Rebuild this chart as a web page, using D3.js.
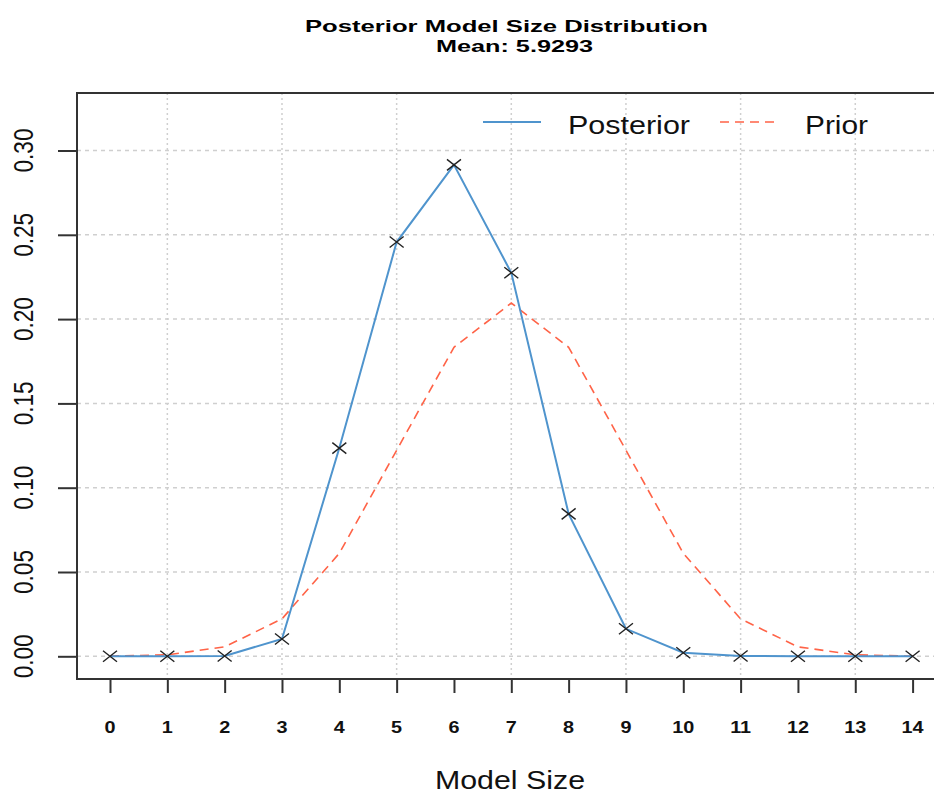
<!DOCTYPE html>
<html>
<head>
  <meta charset="UTF-8">
  <style>
    body { margin: 0; background: #fff; }
    svg { display: block; font-family: "Liberation Sans", Arial, sans-serif; }
  </style>
</head>
<body>
<svg></svg>
<script src="https://d3js.org/d3.v7.min.js"></script>
<script>

let width = 934, height = 793;

// data
const modelSizes = [0, 1, 2, 3, 4, 5, 6, 7, 8, 9, 10, 11, 12, 13, 14];
const posterior = [0.0000, 0.0000, 0.0002, 0.0103, 0.1235, 0.2457, 0.2915, 0.2275,
                   0.0845, 0.0163, 0.0021, 0.0002, 0.0000, 0.0000, 0.0000];
const prior = [0.0001, 0.0009, 0.0056, 0.0222, 0.0611, 0.1222, 0.1833, 0.2095,
               0.1833, 0.1222, 0.0611, 0.0222, 0.0056, 0.0009, 0.0001];
const yTicks = [0, 0.05, 0.10, 0.15, 0.20, 0.25, 0.30];
const yTickLabels = ["0.00", "0.05", "0.10", "0.15", "0.20", "0.25", "0.30"];
const gridSizes = [1, 3, 5, 7, 9, 11, 13];
const titleLines = ["Posterior Model Size Distribution", "Mean: 5.9293"];
const seriesNames = ["Posterior", "Prior"];
const xTitle = "Model Size";

let svg = d3.select("svg")
    .attr("width", width)
    .attr("height", height);

// plot box (right edge runs past the picture)
let box = {left: 77, top: 93, right: 945, bottom: 679};

var x = d3.scaleLinear().domain([0, 14]).range([110, 912.6]);
var y = d3.scaleLinear().domain([0, 0.3]).range([656.3, 150.5]);

let sx = 1.24; // picture is stretched sideways

// grid
svg.append("g")
    .selectAll("line")
    .data(gridSizes)
    .enter()
    .append("line")
    .attr("x1", d => x(d)).attr("x2", d => x(d))
    .attr("y1", box.top).attr("y2", box.bottom)
    .attr("stroke", "#cfcfcf")
    .attr("stroke-width", 1.5)
    .attr("stroke-dasharray", "2,3");

svg.append("g")
    .selectAll("line")
    .data(yTicks)
    .enter()
    .append("line")
    .attr("x1", box.left).attr("x2", box.right)
    .attr("y1", d => y(d)).attr("y2", d => y(d))
    .attr("stroke", "#cfcfcf")
    .attr("stroke-width", 1.5)
    .attr("stroke-dasharray", "4,4");

// lines
let line = d3.line()
    .x((d, i) => x(modelSizes[i]))
    .y(d => y(d));

svg.append("path")
    .datum(prior)
    .attr("d", line)
    .attr("fill", "none")
    .attr("stroke", "#FF6347")
    .attr("stroke-width", 1.6)
    .attr("stroke-dasharray", "9,6");

svg.append("path")
    .datum(posterior)
    .attr("d", line)
    .attr("fill", "none")
    .attr("stroke", "#4F94CD")
    .attr("stroke-width", 2);

// crosses on posterior
svg.append("g")
    .selectAll("path")
    .data(posterior)
    .enter()
    .append("path")
    .attr("d", (d, i) => {
        let cx = x(modelSizes[i]), cy = y(d);
        return `M${cx - 7},${cy - 5.5}L${cx + 7},${cy + 5.5}M${cx - 7},${cy + 5.5}L${cx + 7},${cy - 5.5}`;
    })
    .attr("stroke", "#222")
    .attr("stroke-width", 1.4)
    .attr("fill", "none");

// box
svg.append("rect")
    .attr("x", box.left).attr("y", box.top)
    .attr("width", box.right - box.left)
    .attr("height", box.bottom - box.top)
    .attr("fill", "none")
    .attr("stroke", "#333")
    .attr("stroke-width", 2);

// x axis
let xAxis = svg.append("g")
    .attr("transform", `translate(0,${box.bottom})`)
    .call(d3.axisBottom(x).tickValues(modelSizes).tickSize(14).tickFormat(""));
xAxis.select(".domain").remove();
xAxis.selectAll(".tick line").attr("stroke", "#333").attr("stroke-width", 2);

svg.append("g")
    .selectAll("text")
    .data(modelSizes)
    .enter()
    .append("text")
    .attr("transform", d => `translate(${x(d)},733) scale(${sx},1)`)
    .attr("text-anchor", "middle")
    .attr("font-size", 16)
    .attr("font-weight", "bold")
    .attr("fill", "#111")
    .text(d => d);

// y axis
let yAxis = svg.append("g")
    .attr("transform", `translate(${box.left},0)`)
    .call(d3.axisLeft(y).tickValues(yTicks).tickSize(19).tickFormat(""));
yAxis.select(".domain").remove();
yAxis.selectAll(".tick line").attr("stroke", "#333").attr("stroke-width", 2);

svg.append("g")
    .selectAll("text")
    .data(yTicks)
    .enter()
    .append("text")
    .attr("transform", d => `translate(33,${y(d)}) scale(${sx},1) rotate(-90)`)
    .attr("text-anchor", "middle")
    .attr("font-size", 22.6)
    .attr("fill", "#111")
    .text((d, i) => yTickLabels[i]);

// titles
svg.append("text")
    .attr("x", 305).attr("y", 32)
    .attr("font-size", 16.3)
    .attr("font-weight", "bold")
    .attr("textLength", 403)
    .attr("lengthAdjust", "spacingAndGlyphs")
    .text(titleLines[0]);

svg.append("text")
    .attr("x", 436).attr("y", 52)
    .attr("font-size", 16.3)
    .attr("font-weight", "bold")
    .attr("textLength", 157)
    .attr("lengthAdjust", "spacingAndGlyphs")
    .text(titleLines[1]);

svg.append("text")
    .attr("x", 435).attr("y", 789)
    .attr("font-size", 25)
    .attr("fill", "#111")
    .attr("textLength", 150)
    .attr("lengthAdjust", "spacingAndGlyphs")
    .text(xTitle);

// legend
let legend = svg.append("g");
legend.append("line")
    .attr("x1", 483).attr("x2", 541)
    .attr("y1", 122).attr("y2", 122)
    .attr("stroke", "#4F94CD")
    .attr("stroke-width", 2);
legend.append("text")
    .attr("x", 568).attr("y", 134)
    .attr("font-size", 26)
    .attr("fill", "#111")
    .attr("textLength", 122)
    .attr("lengthAdjust", "spacingAndGlyphs")
    .text(seriesNames[0]);
legend.append("line")
    .attr("x1", 720).attr("x2", 777)
    .attr("y1", 122).attr("y2", 122)
    .attr("stroke", "#FF6347")
    .attr("stroke-width", 1.6)
    .attr("stroke-dasharray", "9,6");
legend.append("text")
    .attr("x", 805).attr("y", 134)
    .attr("font-size", 26)
    .attr("fill", "#111")
    .attr("textLength", 63)
    .attr("lengthAdjust", "spacingAndGlyphs")
    .text(seriesNames[1]);

</script>
</body>
</html>
